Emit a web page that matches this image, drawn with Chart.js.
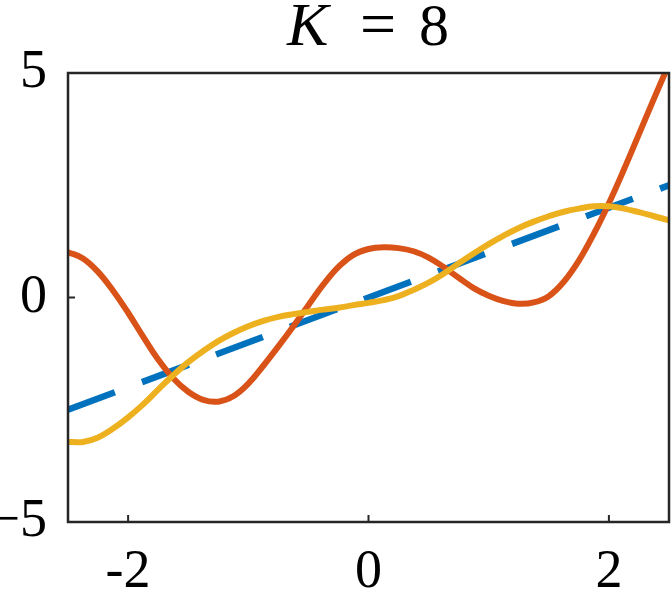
<!DOCTYPE html>
<html>
<head>
<meta charset="utf-8">
<script src="https://cdn.jsdelivr.net/npm/chart.js@4"></script>
<style>
html, body { margin: 0; padding: 0; background: #fff; }
#wrap { width: 671px; height: 594px; }
</style>
</head>
<body>
<div id="wrap"><canvas id="myChart"></canvas></div>
<script>
// sample positions along x
const xValues = [-2.5, -2.375, -2.25, -2.125, -2, -1.875, -1.75, -1.625, -1.5, -1.375, -1.25, -1.125, -1, -0.875, -0.75, -0.625, -0.5, -0.375, -0.25, -0.125, 0,
  0.125, 0.25, 0.375, 0.5, 0.625, 0.75, 0.875, 1, 1.125, 1.25, 1.375, 1.5, 1.625, 1.75, 1.875, 2, 2.125, 2.25, 2.375, 2.5];

const orangeY = [1.01, 0.87, 0.57, 0.15, -0.34, -0.87, -1.38, -1.80, -2.10, -2.28, -2.32, -2.20, -1.92, -1.52, -1.09, -0.64, -0.17, 0.29, 0.68, 0.95, 1.08,
  1.12, 1.10, 1.03, 0.89, 0.68, 0.44, 0.21, 0.04, -0.08, -0.14, -0.11, 0.03, 0.35, 0.82, 1.42, 2.10, 2.85, 3.64, 4.43, 5.2];

const yellowY = [-3.21, -3.22, -3.12, -2.92, -2.67, -2.38, -2.05, -1.73, -1.44, -1.19, -0.97, -0.79, -0.64, -0.52, -0.43, -0.37, -0.32, -0.27, -0.23, -0.17, -0.12,
  -0.06, 0.03, 0.17, 0.33, 0.53, 0.76, 0.98, 1.19, 1.38, 1.55, 1.69, 1.81, 1.91, 1.98, 2.03, 2.03, 1.98, 1.90, 1.81, 1.72];

const blueX = [-2.5, 2.5];
const blueY = [-2.5, 2.5];

const xTicks = [-2, 0, 2];
const xTickLabels = ['-2', '0', '2'];
const yTicks = [-5, 0, 5];
const yTickLabels = ['\u22125', '0', '5'];

const titleParts = ['K', '=', '8'];

function pts(xa, ya) {
  return xa.map((x, i) => ({x: x, y: ya[i]}));
}

const axisColor = '#262626';
const fontFam = '"Liberation Serif", "Times New Roman", serif';

const frame = {
  id: 'frame',
  afterDatasetsDraw(chart) {
    const c = chart.ctx;
    const a = chart.chartArea;
    const sx = chart.scales.x, sy = chart.scales.y;
    c.save();
    c.strokeStyle = axisColor;
    c.lineWidth = 2.5;
    c.strokeRect(a.left, a.top, a.right - a.left, a.bottom - a.top);
    c.lineWidth = 2;
    xTicks.forEach(v => {
      const p = sx.getPixelForValue(v);
      c.beginPath(); c.moveTo(p, a.bottom); c.lineTo(p, a.bottom - 7); c.stroke();
    });
    yTicks.forEach(v => {
      const p = sy.getPixelForValue(v);
      c.beginPath(); c.moveTo(a.left, p); c.lineTo(a.left + 7, p); c.stroke();
    });
    c.restore();
  },
  afterDraw(chart) {
    // title K = 8, K in italic, wide math spacing around '='
    const c = chart.ctx;
    c.save();
    c.fillStyle = '#000';
    c.textBaseline = 'alphabetic';
    const base = 45;
    c.font = 'italic 62px ' + fontFam;
    c.fillText(titleParts[0], 287, base);
    c.font = '64px ' + fontFam;
    c.fillText(titleParts[1], 360, base);
    c.font = '60px ' + fontFam;
    c.fillText(titleParts[2], 419, base);
    c.restore();
  }
};

const ctx = document.getElementById('myChart');
new Chart(ctx, {
  type: 'line',
  data: {
    datasets: [{
      label: 'line',
      data: pts(blueX, blueY),
      borderColor: '#0072BD',
      borderWidth: 6.5,
      borderDash: [50, 29],
      pointRadius: 0,
      tension: 0,
      order: 2
    }, {
      label: 'K=8 fit',
      data: pts(xValues, orangeY),
      borderColor: '#D95319',
      borderWidth: 6,
      pointRadius: 0,
      tension: 0.4,
      order: 1
    }, {
      label: 'smooth',
      data: pts(xValues, yellowY),
      borderColor: '#EDB120',
      borderWidth: 6,
      pointRadius: 0,
      tension: 0.4,
      order: 0
    }]
  },
  options: {
    responsive: true,
    maintainAspectRatio: false,
    animation: false,
    layout: { padding: { top: 73, right: 2, left: 0, bottom: 0 } },
    plugins: {
      legend: { display: false },
      tooltip: { enabled: false },
      title: { display: false }
    },
    scales: {
      x: {
        type: 'linear',
        min: -2.5,
        max: 2.5,
        grid: { display: false, drawTicks: false },
        border: { display: false },
        afterBuildTicks: s => { s.ticks = xTicks.map(v => ({value: v})); },
        afterFit: s => { s.height = 72; },
        ticks: {
          padding: 18,
          maxRotation: 0,
          color: '#000',
          font: { family: fontFam, size: 54 },
          callback: v => xTickLabels[xTicks.indexOf(v)]
        }
      },
      y: {
        min: -5,
        max: 5,
        grid: { display: false, drawTicks: false },
        border: { display: false },
        afterBuildTicks: s => { s.ticks = yTicks.map(v => ({value: v})); },
        afterFit: s => { s.width = 68; },
        ticks: {
          padding: 21,
          color: '#000',
          font: { family: fontFam, size: 54 },
          callback: v => yTickLabels[yTicks.indexOf(v)]
        }
      }
    }
  },
  plugins: [frame]
});
</script>
</body>
</html>
